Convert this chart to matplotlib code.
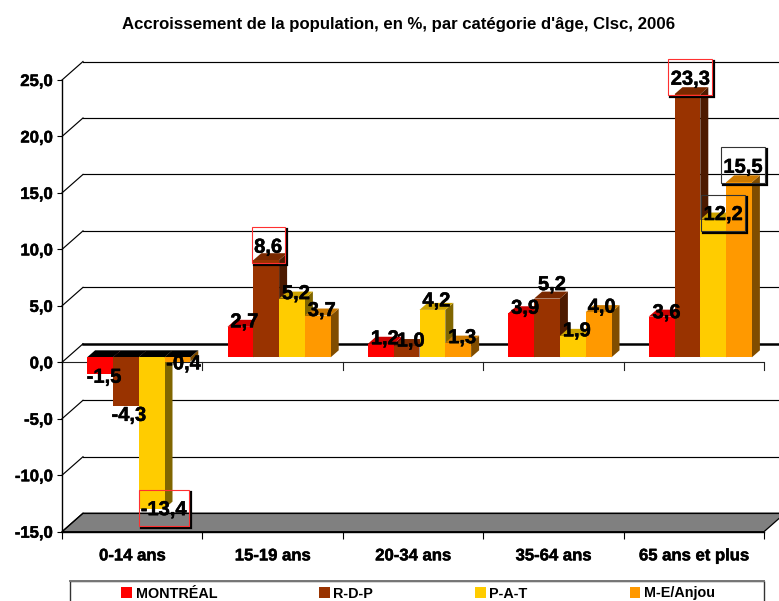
import matplotlib
matplotlib.use("Agg")
import matplotlib.pyplot as plt
import matplotlib.patheffects as pe
from matplotlib.patches import Polygon, Rectangle, Patch
from matplotlib.lines import Line2D

plt.rcParams['font.family'] = ['Liberation Sans', 'DejaVu Sans']
plt.rcParams['font.weight'] = 'bold'

title = "Accroissement de la population, en %, par catégorie d'âge, Clsc, 2006"
categories = ['0-14 ans', '15-19 ans', '20-34 ans', '35-64 ans', '65 ans et plus']
montreal = [-1.5, 2.7, 1.2, 3.9, 3.6]
rdp = [-4.3, 8.6, 1.0, 5.2, 23.3]
pat = [-13.4, 5.2, 4.2, 1.9, 12.2]
me_anjou = [-0.4, 3.7, 1.3, 4.0, 15.5]
series_names = ['MONTRÉAL', 'R-D-P', 'P-A-T', 'M-E/Anjou']
y_ticks = [-15, -10, -5, 0, 5, 10, 15, 20, 25]

W, H = 779, 601
L, R, T, B = 62, 764, 80, 531.7
PX = 5 / (R - L)          # data x per pixel
PY = 40 / (B - T)         # data y per pixel

front = ['#FF0000', '#993300', '#FFCC00', '#FF9900']
topc = ['#CC0000', '#7A2900', '#CCA300', '#CC7A00']
side = ['#800000', '#4D1A00', '#806600', '#804D00']

fig = plt.figure(figsize=(W / 100, H / 100), dpi=100)
ax = fig.add_axes([L / W, (H - B) / H, (R - L) / W, (B - T) / H])
ax.set_xlim(0, 5)
ax.set_ylim(-15, 25)
ax.patch.set_alpha(0)
for s in ('top', 'right'):
    ax.spines[s].set_visible(False)
for s in ('left', 'bottom'):
    ax.spines[s].set_linewidth(1.0)
    ax.spines[s].set_zorder(3)

thick = [pe.withStroke(linewidth=0.35, foreground='black')]

# ticks
ax.set_yticks(y_ticks)
ax.set_yticklabels([f"{v:.1f}".replace('.', ',') for v in y_ticks], fontsize=12, fontweight='bold')
ax.set_xticks(range(6))
ax.set_xticklabels([])
ax.set_xticks([i + 0.5 for i in range(5)], categories, minor=True, fontsize=12, fontweight='bold')
ax.tick_params(axis='y', length=3.8, width=0.8, pad=3)
ax.tick_params(axis='x', which='major', length=5, width=0.8)
ax.tick_params(axis='x', which='minor', length=0, pad=12)
for lab in ax.get_yticklabels() + ax.get_xticklabels(minor=True):
    lab.set_path_effects(thick)

# back wall gridlines and floor
BDX, BDY = 21 * PX, 18.5 * PY
ax.add_patch(Polygon([(0, -15), (BDX, -15 + BDY), (5 + BDX, -15 + BDY), (5, -15)],
                     fc='#808080', ec='black', lw=0.9, zorder=1, clip_on=False))
for v in y_ticks:
    ax.plot([0, BDX], [v, v + BDY], color='black', lw=0.85, zorder=1, clip_on=False)
    ax.plot([BDX, 5 + BDX], [v + BDY, v + BDY], color='black',
            lw=1.8 if v == 0 else 0.85, zorder=1.5 if v == -15 else 1, clip_on=False)

# front zero axis with its ticks
ax.plot([0, 5], [0, 0], color='#222222', lw=0.8, zorder=1.2)
for i in range(1, 6):
    ax.plot([i, i], [0, -8 * PY], color='#222222', lw=0.8, zorder=1.2, clip_on=False)

# bars
BW = 25.8 * PX
X0, Y0 = 6.5 * PX, 5 * PY
DX, DY = 8 * PX, 7 * PY
all_series = [montreal, rdp, pat, me_anjou]
z = 2.0
for c in range(5):
    for k, vals in enumerate(all_series):
        v = vals[c]
        x0 = c + 0.5 - 2 * BW + k * BW + X0
        x1 = x0 + BW
        lim = max(v, 0)
        ax.add_patch(Polygon([(x1, Y0), (x1 + DX, Y0 + DY), (x1 + DX, v + Y0 + DY), (x1, v + Y0)],
                             fc=side[k], ec='none', zorder=z, clip_on=False))
        ax.add_patch(Polygon([(x0, lim + Y0), (x0 + DX, lim + Y0 + DY), (x1 + DX, lim + Y0 + DY), (x1, lim + Y0)],
                             fc='black' if v < 0 else topc[k], ec='none', zorder=z + 0.01, clip_on=False))
        ax.bar(x0, v, BW, bottom=Y0, align='edge', color=front[k], zorder=z + 0.02, clip_on=False)
        z += 0.05

# data labels: pixel nudges from the bar's front top corner centre
nudge = [
    [(4, -1), (4, 7), (4, 7), (4, 7), (5, 6)],
    [(3, -7.5), (2, 15), (4, 7), (5, 16), (3, 17)],
    [(12, 1), (4, 7), (4, 11), (4, 7), (10, 7)],
    [(6, 0), (4, 7), (4, 7), (3, 7), (4, 17)],
]
boxed = {(2, 0): '#FF3030', (1, 1): '#FF3030', (1, 4): '#FF3030', (2, 4): '#333333', (3, 4): '#333333'}
for k, vals in enumerate(all_series):
    for c, v in enumerate(vals):
        x = c + 0.5 - 2 * BW + k * BW + X0 + BW / 2 + nudge[k][c][0] * PX
        y = v + Y0 + nudge[k][c][1] * PY
        txt = f"{v:.1f}".replace('.', ',')
        ax.text(x, y, txt, ha='center', va='center_baseline', fontsize=14.5, fontweight='bold',
                color='black', zorder=20, clip_on=False, path_effects=thick)
        if (k, c) in boxed:
            w = {3: 33, 4: 44, 5: 50}[len(txt)] * PX
            h = 36 * PY
            xa, xb, ya, yb = x - w / 2, x + w / 2, y - h / 2, y + h / 2
            ax.add_line(Line2D([xa + 2 * PX, xb + 2 * PX, xb + 2 * PX],
                               [ya - 2 * PY, ya - 2 * PY, yb - 2 * PY],
                               color='black', lw=1.6, zorder=18, clip_on=False,
                               solid_joinstyle='miter'))
            ax.add_patch(Rectangle((xa, ya), w, h, fc='none', ec=boxed[(k, c)], lw=0.8,
                                   zorder=19, clip_on=False))

fig.text(399 / W, 1 - 24 / H, title, ha='center', va='center', fontsize=12.1, fontweight='bold')

# legend
fig.add_artist(Rectangle((70 / W, -10 / H), 694 / W, (H - 581 + 10) / H, transform=fig.transFigure,
                         fc='white', ec='#333333', lw=1.0))
fig.add_artist(Line2D([70 / W, 764 / W], [1 - 581 / H] * 2, color='#777777', lw=1.4))
fs = 10.4
fpx = fs * 100 / 72
handles = [Patch(fc=front[i], ec='none', label=series_names[i]) for i in range(4)]
leg = fig.legend(handles=handles, ncol=4, frameon=False, loc='center left',
                 bbox_to_anchor=(121.5 / W, 1 - 593.5 / H), bbox_transform=fig.transFigure,
                 borderaxespad=0, borderpad=0,
                 columnspacing=102 / fpx, handlelength=10.5 / fpx, handleheight=0.85,
                 handletextpad=3.6 / fpx, prop={'weight': 'bold', 'size': fs})
leg.set_zorder(5)

fig.savefig('out.png', dpi=100)
